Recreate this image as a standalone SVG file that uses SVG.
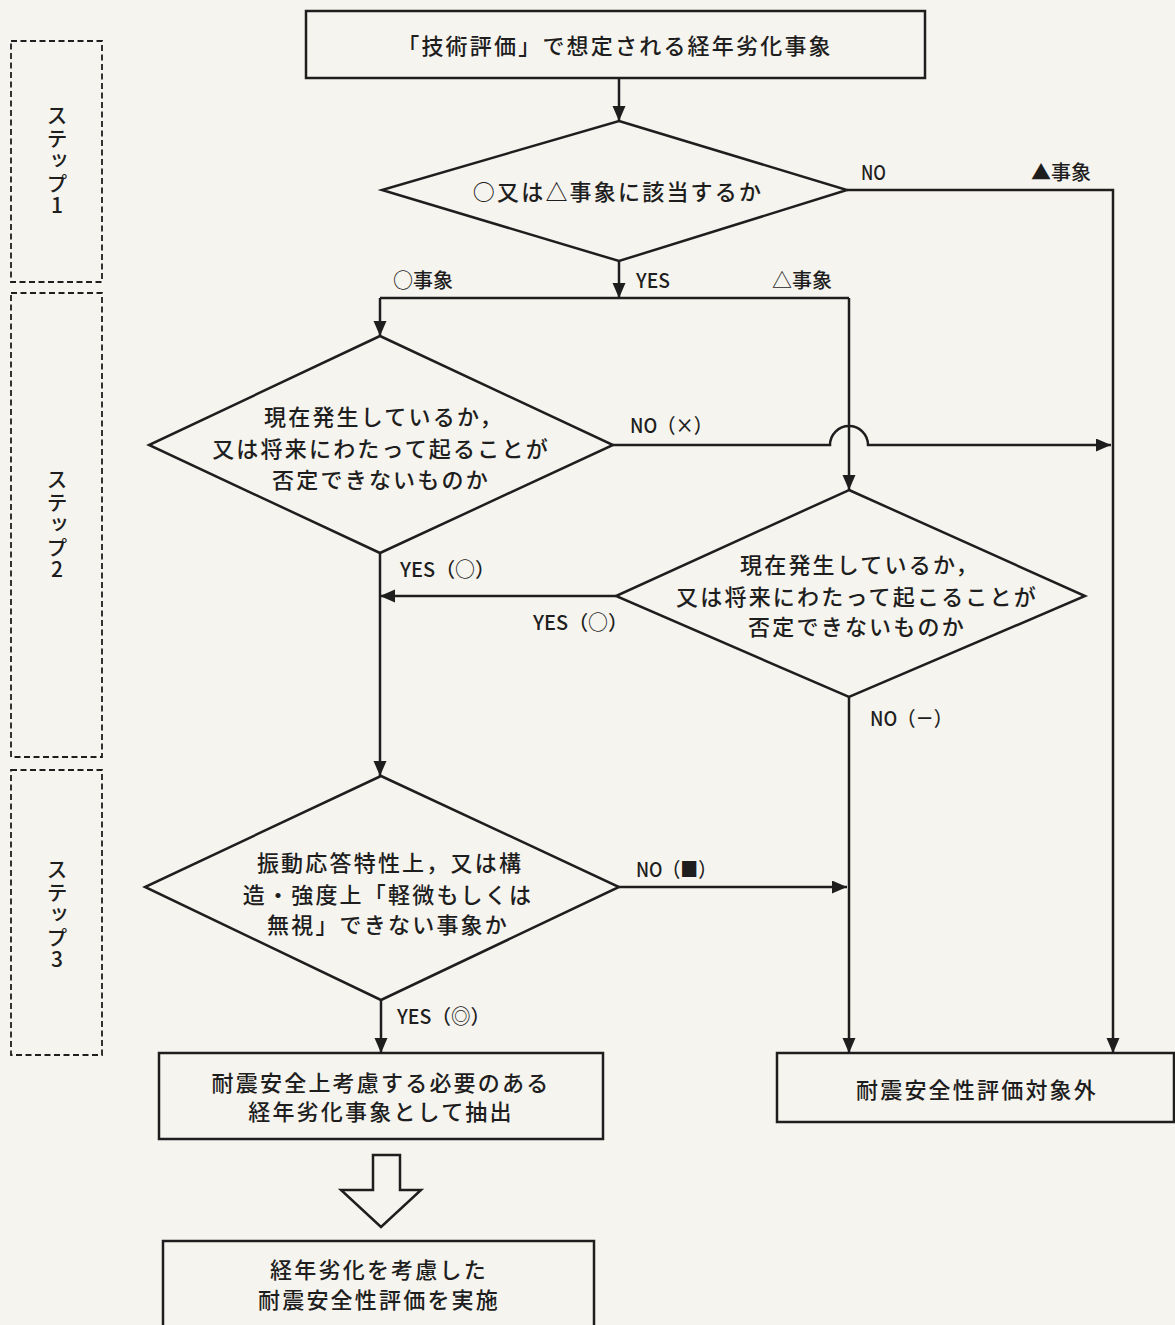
<svg xmlns="http://www.w3.org/2000/svg" width="1175" height="1325" viewBox="0 0 1175 1325">
<defs>
<marker id="ah" markerUnits="userSpaceOnUse" markerWidth="16" markerHeight="14" refX="15" refY="6.5" orient="auto">
<path d="M0,0 L15,6.5 L0,13 Z" fill="#1e1e1e"/>
</marker>
</defs>
<style>
.bg{fill:#f6f4ee}
.sh{fill:none;stroke:#1e1e1e;stroke-width:2.5}
.dash{fill:none;stroke:#1e1e1e;stroke-width:1.8;stroke-dasharray:6 3.5}
.c{fill:none;stroke:#1e1e1e;stroke-width:2.5}
.t{font-family:"Noto Sans CJK JP","Noto Sans",sans-serif;font-size:22px;fill:#1e1e1e;text-anchor:middle;letter-spacing:2.2px;font-weight:500}
.lb{font-family:"Noto Sans CJK JP","Noto Sans",sans-serif;font-size:20px;fill:#1e1e1e;font-weight:500}
.st{font-family:"Noto Sans CJK JP","Noto Sans",sans-serif;font-size:21px;fill:#1e1e1e;text-anchor:middle;font-weight:500;writing-mode:vertical-rl;text-orientation:upright;letter-spacing:1.5px}
</style>
<rect class="bg" x="0" y="0" width="1175" height="1325"/>

<g id="step1">
<rect class="dash" x="11" y="41" width="91" height="241"/>
<text class="st" x="57" y="161">ステップ1</text>
</g>
<g id="step2">
<rect class="dash" x="11" y="293" width="91" height="464"/>
<text class="st" x="57" y="525">ステップ2</text>
</g>
<g id="step3">
<rect class="dash" x="11" y="770" width="91" height="285"/>
<text class="st" x="57" y="915">ステップ3</text>
</g>

<g id="start">
<rect class="sh" x="306" y="11" width="619" height="67"/>
<text class="t" x="615" y="54">「技術評価」で想定される経年劣化事象</text>
</g>

<g id="d1">
<polygon class="sh" points="619,121 847,190 619,261 382,190"/>
<text class="t" x="618" y="200">○又は△事象に該当するか</text>
</g>

<g id="d2">
<polygon class="sh" points="380,336 613,445 380,553 149,445"/>
<text class="t" x="384" y="425">現在発生しているか，</text>
<text class="t" x="381" y="457">又は将来にわたって起ることが</text>
<text class="t" x="381" y="488">否定できないものか</text>
</g>

<g id="d3">
<polygon class="sh" points="849,490 1085,596 849,697 616,596"/>
<text class="t" x="860" y="573">現在発生しているか，</text>
<text class="t" x="857" y="605">又は将来にわたって起こることが</text>
<text class="t" x="857" y="635">否定できないものか</text>
</g>

<g id="d4">
<polygon class="sh" points="381,776 619,887 381,1000 145,887"/>
<text class="t" x="390" y="871">振動応答特性上，又は構</text>
<text class="t" x="388" y="903">造・強度上「軽微もしくは</text>
<text class="t" x="388" y="933">無視」できない事象か</text>
</g>

<g id="extract">
<rect class="sh" x="159" y="1053" width="444" height="86"/>
<text class="t" x="381" y="1091">耐震安全上考慮する必要のある</text>
<text class="t" x="381" y="1120">経年劣化事象として抽出</text>
</g>

<g id="excluded">
<rect class="sh" x="777" y="1053" width="397" height="69"/>
<text class="t" x="977" y="1098">耐震安全性評価対象外</text>
</g>

<g id="bigarrow">
<polygon class="sh" points="373,1155 400,1155 400,1190 421,1190 381,1227 341,1190 373,1190" fill="none"/>
</g>

<g id="final">
<rect class="sh" x="163" y="1241" width="431" height="100"/>
<text class="t" x="379" y="1278">経年劣化を考慮した</text>
<text class="t" x="379" y="1308">耐震安全性評価を実施</text>
</g>

<g id="connectors">
<path class="c" d="M619,78 V121" marker-end="url(#ah)"/>
<path class="c" d="M847,190 H1113 V1053" marker-end="url(#ah)"/>
<path class="c" d="M619,261 V298" marker-end="url(#ah)"/>
<path class="c" d="M380,298 H849"/>
<path class="c" d="M380,298 V336" marker-end="url(#ah)"/>
<path class="c" d="M849,298 V490" marker-end="url(#ah)"/>
<path class="c" d="M613,445 H830 A19,19 0 0 1 868,445 H1111" marker-end="url(#ah)"/>
<path class="c" d="M616,596 H380" marker-end="url(#ah)"/>
<path class="c" d="M380,553 V776" marker-end="url(#ah)"/>
<path class="c" d="M849,697 V1053" marker-end="url(#ah)"/>
<path class="c" d="M619,887 H847" marker-end="url(#ah)"/>
<path class="c" d="M381,1000 V1053" marker-end="url(#ah)"/>
<text class="lb" x="861" y="180" textLength="25" lengthAdjust="spacingAndGlyphs">NO</text>
<text class="lb" x="1031" y="180">▲事象</text>
<text class="lb" x="393" y="288">○事象</text>
<text class="lb" x="636" y="288" textLength="34" lengthAdjust="spacingAndGlyphs">YES</text>
<text class="lb" x="772" y="288">△事象</text>
<text class="lb" x="630" y="433" textLength="82" lengthAdjust="spacingAndGlyphs">NO（×）</text>
<text class="lb" x="400" y="577" textLength="95" lengthAdjust="spacingAndGlyphs">YES（○）</text>
<text class="lb" x="533" y="630" textLength="95" lengthAdjust="spacingAndGlyphs">YES（○）</text>
<text class="lb" x="870" y="726" textLength="82" lengthAdjust="spacingAndGlyphs">NO（－）</text>
<text class="lb" x="636" y="877" textLength="80" lengthAdjust="spacingAndGlyphs">NO（■）</text>
<text class="lb" x="397" y="1024" textLength="93" lengthAdjust="spacingAndGlyphs">YES（◎）</text>
</g>
</svg>
